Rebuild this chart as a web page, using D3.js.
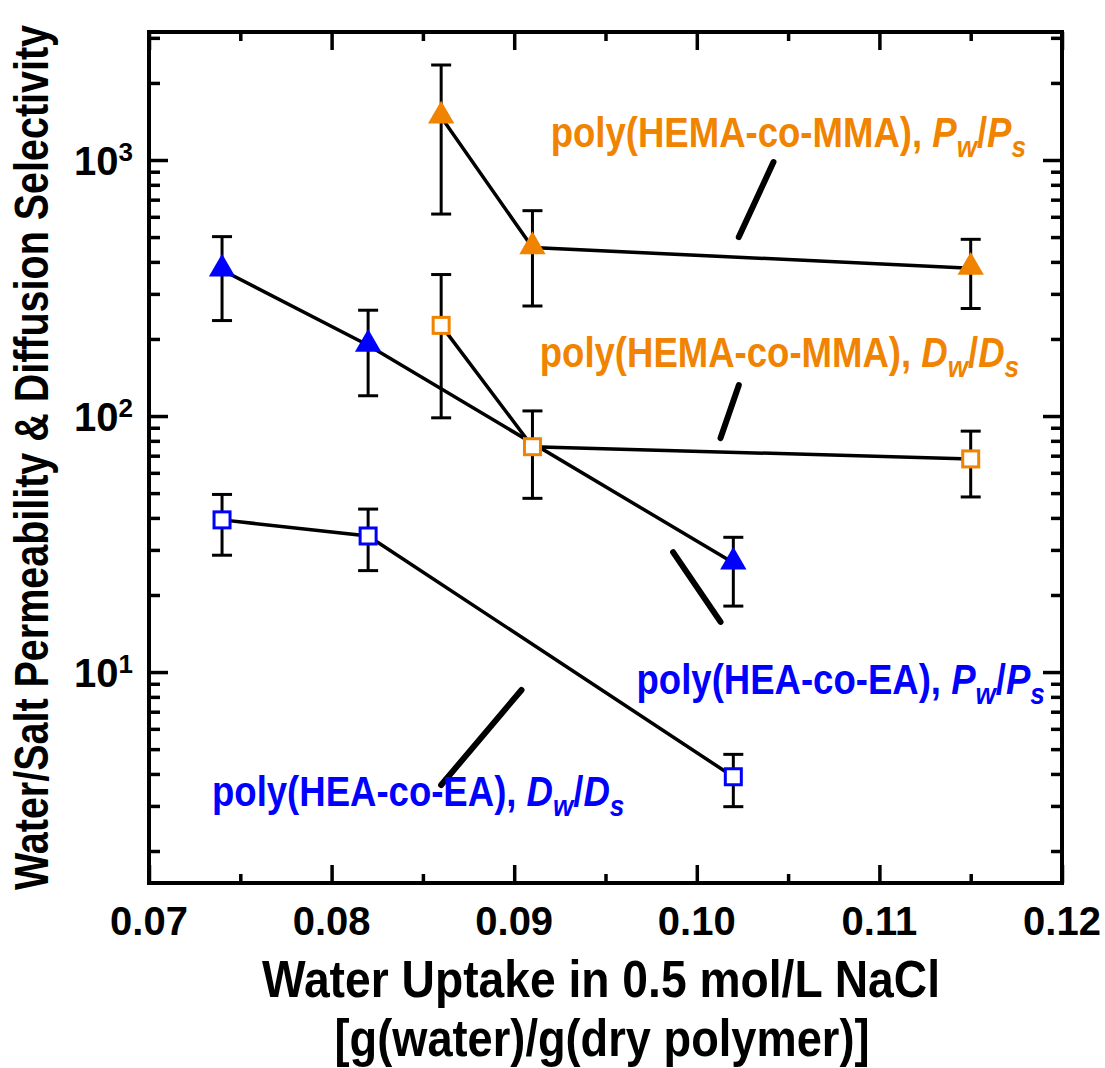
<!DOCTYPE html>
<html>
<head>
<meta charset="utf-8">
<script src="https://d3js.org/d3.v7.min.js"></script>
<style>
  body { margin: 0; background: #fff; }
  text { font-family: "Liberation Sans", Arial, sans-serif; font-weight: bold; }
</style>
</head>
<body>
<div id="chart"></div>
<script>
// tick values
var xMajor = [0.07, 0.08, 0.09, 0.10, 0.11, 0.12];
var xMinor = [0.075, 0.085, 0.095, 0.105, 0.115];
var yMajor = [10, 100, 1000];
var yMinor = [2, 3, 4, 5, 6, 7, 8, 9, 20, 30, 40, 50, 60, 70, 80, 90,
              200, 300, 400, 500, 600, 700, 800, 900, 2000, 3000];

// poly(HEA-co-EA)
var heaX = [0.074, 0.082, 0.102];
var heaPw = [372, 189, 26.7];
var heaPwLo = [236, 120, 18.1];
var heaPwHi = [502, 259, 33.6];
var heaDw = [39.3, 34.0, 3.9];
var heaDwLo = [28.6, 24.9, 2.98];
var heaDwHi = [49.4, 43.3, 4.77];

// poly(HEMA-co-MMA)
var hemaX = [0.086, 0.091, 0.115];
var hemaPw = [1472, 455, 378];
var hemaPwLo = [615, 269, 263];
var hemaPwHi = [2350, 634, 490];
var hemaDw = [226, 75.9, 68];
var hemaDwLo = [98.4, 47.7, 48.3];
var hemaDwHi = [357, 104.7, 87.3];

// labels: [x, y] where the text starts, and pointer lines [[x1,y1],[x2,y2]]
var labelNames = ["poly(HEMA-co-MMA), ", "poly(HEMA-co-MMA), ", "poly(HEA-co-EA), ", "poly(HEA-co-EA), "];
var labelSym = ["P", "D", "P", "D"];
var labelPos = [[0.0920, 1124], [0.0914, 155], [0.0967, 8.2], [0.07345, 3.0]];
var pointers = [
  [[0.1042, 982], [0.1023, 500]],
  [[0.1023, 132], [0.1013, 82]],
  [[0.0987, 29.4], [0.1013, 15.7]],
  [[0.0904, 8.51], [0.0860, 3.62]]
];

var orange = "#f08300", blue = "#0000ff";
var labelColors = [orange, orange, blue, blue];

var W = 1105, H = 1068;
var pLeft = 149, pRight = 1062, pTop = 32, pBottom = 883;

var svg = d3.select("#chart").append("svg")
  .attr("width", W).attr("height", H);

var x = d3.scaleLinear().domain([0.07, 0.12]).range([pLeft, pRight]);
var y = d3.scaleLog().domain([1.5, 3162]).range([pBottom, pTop]);

// axes: major + minor on all four sides
function drawAxis(axisFn, scale, vals, len, transform) {
  var g = svg.append("g").attr("transform", transform)
    .call(axisFn(scale).tickValues(vals).tickSize(len).tickFormat(""));
  g.select(".domain").remove();
  g.selectAll(".tick line").attr("stroke", "#000").attr("stroke-width", 3.5);
  return g;
}
drawAxis(d3.axisTop, x, xMajor, 18, "translate(0," + pBottom + ")");
drawAxis(d3.axisTop, x, xMinor, 9, "translate(0," + pBottom + ")");
drawAxis(d3.axisBottom, x, xMajor, 18, "translate(0," + pTop + ")");
drawAxis(d3.axisBottom, x, xMinor, 9, "translate(0," + pTop + ")");
drawAxis(d3.axisRight, y, yMajor, 19, "translate(" + pLeft + ",0)");
drawAxis(d3.axisRight, y, yMinor, 11, "translate(" + pLeft + ",0)");
drawAxis(d3.axisLeft, y, yMajor, 19, "translate(" + pRight + ",0)");
drawAxis(d3.axisLeft, y, yMinor, 11, "translate(" + pRight + ",0)");

svg.append("rect")
  .attr("x", pLeft).attr("y", pTop)
  .attr("width", pRight - pLeft).attr("height", pBottom - pTop)
  .attr("fill", "none").attr("stroke", "#000").attr("stroke-width", 4);

// tick labels
svg.append("g").selectAll("text").data(xMajor).join("text")
  .attr("x", d => x(d)).attr("y", pBottom + 52)
  .attr("text-anchor", "middle").attr("font-size", 40)
  .text(d => d3.format(".2f")(d));

var yl = svg.append("g").selectAll("text").data(yMajor).join("text")
  .attr("x", 74).attr("y", d => y(d) + 15)
  .attr("font-size", 40);
yl.append("tspan").text("10");
yl.append("tspan").attr("font-size", 26).attr("dy", -14)
  .text(d => Math.round(Math.log10(d)));

// axis titles
svg.append("text")
  .attr("transform", "translate(48," + ((pTop + pBottom) / 2) + ") rotate(-90)")
  .attr("text-anchor", "middle").attr("font-size", 48)
  .attr("textLength", 865).attr("lengthAdjust", "spacingAndGlyphs")
  .text("Water/Salt Permeability & Diffusion Selectivity");

svg.append("text")
  .attr("x", 601).attr("y", 997)
  .attr("text-anchor", "middle").attr("font-size", 52)
  .attr("textLength", 678).attr("lengthAdjust", "spacingAndGlyphs")
  .text("Water Uptake in 0.5 mol/L NaCl");

svg.append("text")
  .attr("x", 602).attr("y", 1056)
  .attr("text-anchor", "middle").attr("font-size", 52)
  .attr("textLength", 535).attr("lengthAdjust", "spacingAndGlyphs")
  .text("[g(water)/g(dry polymer)]");

// series
var series = [
  { xs: heaX, v: heaDw, lo: heaDwLo, hi: heaDwHi, color: blue, shape: "square" },
  { xs: heaX, v: heaPw, lo: heaPwLo, hi: heaPwHi, color: blue, shape: "triangle" },
  { xs: hemaX, v: hemaDw, lo: hemaDwLo, hi: hemaDwHi, color: orange, shape: "square" },
  { xs: hemaX, v: hemaPw, lo: hemaPwLo, hi: hemaPwHi, color: orange, shape: "triangle" }
];

var line = d3.line().x(d => x(d[0])).y(d => y(d[1]));

series.forEach(function (s) {
  var pts = s.xs.map((xv, i) => [xv, s.v[i], s.lo[i], s.hi[i]]);
  svg.append("path").datum(pts)
    .attr("d", line).attr("fill", "none")
    .attr("stroke", "#000").attr("stroke-width", 3.5);

  var eb = svg.append("g").selectAll("g").data(pts).join("g")
    .attr("stroke", "#000").attr("stroke-width", 3);
  eb.append("line")
    .attr("x1", d => x(d[0])).attr("x2", d => x(d[0]))
    .attr("y1", d => y(d[2])).attr("y2", d => y(d[3]));
  eb.append("line")
    .attr("x1", d => x(d[0]) - 10).attr("x2", d => x(d[0]) + 10)
    .attr("y1", d => y(d[2])).attr("y2", d => y(d[2]));
  eb.append("line")
    .attr("x1", d => x(d[0]) - 10).attr("x2", d => x(d[0]) + 10)
    .attr("y1", d => y(d[3])).attr("y2", d => y(d[3]));
});

series.forEach(function (s) {
  var pts = s.xs.map((xv, i) => [xv, s.v[i]]);
  if (s.shape == "triangle") {
    svg.append("g").selectAll("path").data(pts).join("path")
      .attr("d", d3.symbol().type(d3.symbolTriangle).size(300))
      .attr("transform", d => "translate(" + x(d[0]) + "," + (y(d[1]) - 1) + ")")
      .attr("fill", s.color);
  } else {
    svg.append("g").selectAll("rect").data(pts).join("rect")
      .attr("x", d => x(d[0]) - 8).attr("y", d => y(d[1]) - 8)
      .attr("width", 16).attr("height", 16)
      .attr("fill", "#fff").attr("stroke", s.color).attr("stroke-width", 3);
  }
});

// annotation pointers
svg.append("g").selectAll("line").data(pointers).join("line")
  .attr("x1", d => x(d[0][0])).attr("y1", d => y(d[0][1]))
  .attr("x2", d => x(d[1][0])).attr("y2", d => y(d[1][1]))
  .attr("stroke", "#000").attr("stroke-width", 6).attr("stroke-linecap", "round");

// annotation labels (condensed bold, like the original)
labelNames.forEach(function (name, i) {
  var t = svg.append("text")
    .attr("transform", "translate(" + x(labelPos[i][0]) + "," + y(labelPos[i][1]) + ") scale(0.87,1)")
    .attr("font-size", 42).attr("fill", labelColors[i]);
  t.append("tspan").text(name);
  t.append("tspan").attr("font-style", "italic").text(labelSym[i]);
  t.append("tspan").attr("font-style", "italic").attr("font-size", 30).attr("dy", 10).text("w");
  t.append("tspan").attr("dy", -10).text("/");
  t.append("tspan").attr("font-style", "italic").text(labelSym[i]);
  t.append("tspan").attr("font-style", "italic").attr("font-size", 30).attr("dy", 10).text("s");
});
</script>
</body>
</html>
